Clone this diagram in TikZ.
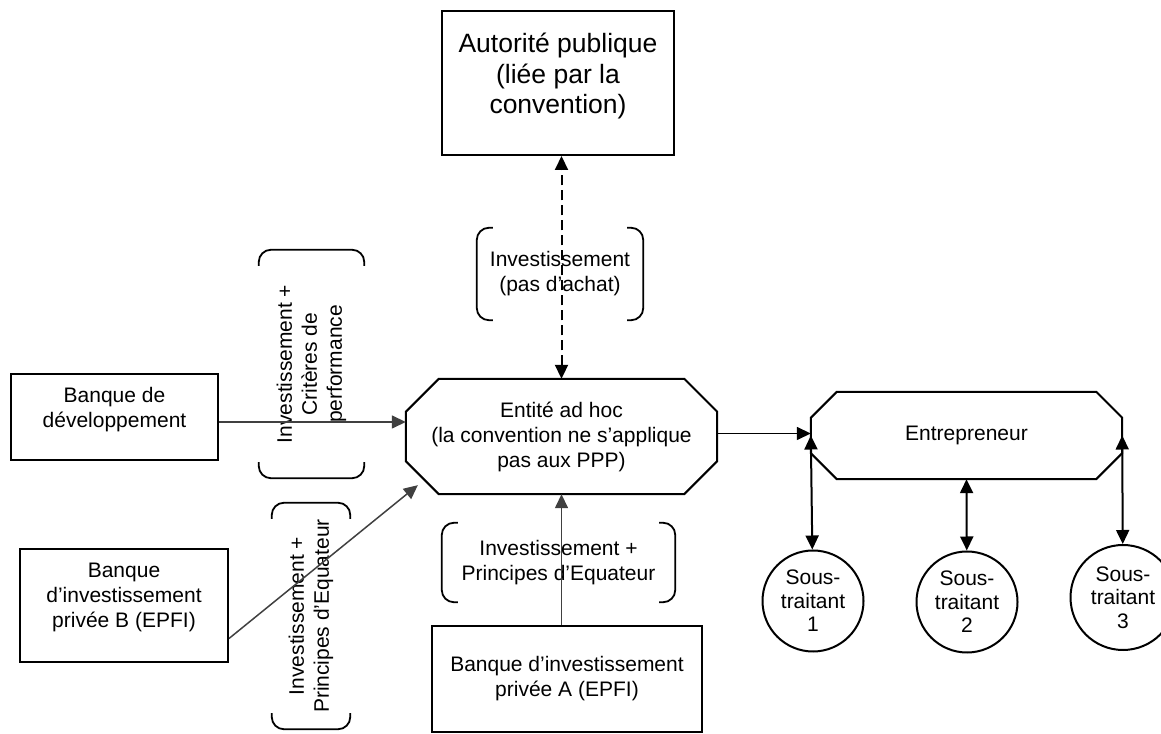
\documentclass[tikz,border=0pt]{standalone}
\usepackage{fontspec}
\setmainfont{Liberation Sans}
\usetikzlibrary{arrows.meta,calc}

% round brackets on the two short sides of a label node
\newcommand\brackets[1]{%
  \draw[bracket] ($(#1.north west)!16pt!(#1.north east)$) -- (#1.north west) -- (#1.south west) -- ($(#1.south west)!16pt!(#1.south east)$)
    ($(#1.north east)!16pt!(#1.north west)$) -- (#1.north east) -- (#1.south east) -- ($(#1.south east)!16pt!(#1.south west)$);}
% octagon outline round a node, #2 = size of the cut corners
\newcommand\octagon[2]{%
  \draw[line width=2pt] ($(#1.north west)+(#2,0)$) -- ($(#1.north east)+(-#2,0)$) -- ($(#1.north east)+(0,-#2)$)
    -- ($(#1.south east)+(0,#2)$) -- ($(#1.south east)+(-#2,0)$) -- ($(#1.south west)+(#2,0)$)
    -- ($(#1.south west)+(0,#2)$) -- ($(#1.north west)+(0,-#2)$) -- cycle;}

\begin{document}
\begin{tikzpicture}[x=1pt,y=1pt,
    box/.style={draw,line width=2pt,align=center,inner sep=0pt,font=\fontsize{21}{25}\selectfont},
    octo/.style={align=center,inner sep=0pt,font=\fontsize{21}{25}\selectfont},
    sub/.style={circle,draw,line width=2pt,minimum size=101pt,inner sep=0pt,align=center,font=\fontsize{21}{23.5}\selectfont},
    note/.style={align=center,inner sep=0pt,font=\fontsize{21}{25}\selectfont},
    bracket/.style={line width=1.8pt,rounded corners=12pt},
    arr/.style={line width=1.5pt,black!75,-{Triangle[length=14pt,width=13pt]}},
    both/.style={line width=2pt,{Triangle[length=14pt,width=13pt]}-{Triangle[length=14pt,width=13pt]}}]
    \useasboundingbox (0,0) rectangle (1161,733);

    \node[box,minimum width=232pt,minimum height=144pt,label={[note,font=\fontsize{26.5}{30.5}\selectfont,yshift=7pt]center:{Autorité publique\\(liée par la\\convention)}}] (pub) at (558,650) {};
    \node[octo,minimum width=311pt,minimum height=115pt] (ent) at (561.5,296.5) {Entité ad hoc\\(la convention ne s’applique\\pas aux PPP)};
    \node[octo,minimum width=311pt,minimum height=87pt] (entr) at (966.5,297.5) {Entrepreneur};
    \octagon{ent}{33}
    \octagon{entr}{26}
    \node[box,minimum width=207pt,minimum height=86pt,label={[note,yshift=7pt]center:{Banque de\\développement}}] (bdev) at (114.5,316) {};
    \node[box,minimum width=208pt,minimum height=113pt,label={[note,yshift=8pt]center:{Banque\\d’investissement\\privée B (EPFI)}}] (bankB) at (124,127.5) {};
    \node[box,minimum width=270pt,minimum height=106pt] (bankA) at (567,54) {Banque d’investissement\\privée A (EPFI)};
    \node[sub] (c1) at (813,132) {Sous-\\traitant\\1};
    \node[sub] (c2) at (967,131) {Sous-\\traitant\\2};
    \node[sub,minimum size=105pt] (c3) at (1123,135.5) {Sous-\\traitant\\3};

    % labels between brackets
    \node[note,minimum width=166pt,minimum height=92pt] (lblpub) at (560,459) {Investissement\\(pas d’achat)};
    \node[note,rotate=90,minimum width=228pt,minimum height=105pt] (lbldev) at (311.5,369) {Investissement +\\Critères de\\performance};
    \node[note,rotate=90,minimum width=226pt,minimum height=78pt] (lblB) at (311,117) {Investissement +\\Principes d’Equateur};
    \node[note,minimum width=233pt,minimum height=79pt] (lblA) at (558.5,170.5) {Investissement +\\Principes d’Equateur};
    \brackets{lblpub}
    \brackets{lbldev}
    \brackets{lblB}
    \brackets{lblA}

    \draw[both,dash pattern=on 10pt off 5pt] (ent.north) -- (ent.north |- pub.south);
    \draw[arr] ([yshift=-5pt]bdev.east) -- ([yshift=-5pt]bdev.east -| ent.west);
    \draw[arr] ([yshift=-33pt]bankB.east) -- ($(ent.south west)+(12,9)$);
    \draw[arr] (bankA.north -| ent.south) -- (ent.south);
    \draw[arr,black] ([yshift=3pt]ent.east) -- ([yshift=3pt]ent.east -| entr.west);
    \draw[both] (c1) -- (entr.west);
    \draw[both] (c2) -- (entr.south);
    \draw[both] (c3) -- (entr.east);
\end{tikzpicture}
\end{document}
